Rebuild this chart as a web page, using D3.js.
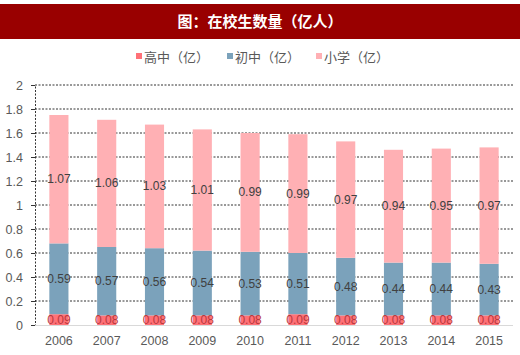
<!DOCTYPE html>
<html><head><meta charset="utf-8">
<script src="https://cdn.jsdelivr.net/npm/d3@7"></script>
<style>body{margin:0;background:#fff;}svg{display:block;font-family:"Noto Sans CJK SC","Liberation Sans",sans-serif;}</style>
</head><body>
<script>
const years = ["2006","2007","2008","2009","2010","2011","2012","2013","2014","2015"];
const highSchool = [0.09,0.08,0.08,0.08,0.08,0.09,0.08,0.08,0.08,0.08];
const juniorHigh = [0.59,0.57,0.56,0.54,0.53,0.51,0.48,0.44,0.44,0.43];
const primary = [1.07,1.06,1.03,1.01,0.99,0.99,0.97,0.94,0.95,0.97];
const seriesNames = ["高中（亿）","初中（亿）","小学（亿）"];
const yTicks = [0,0.2,0.4,0.6,0.8,1,1.2,1.4,1.6,1.8,2];
const title = "图：在校生数量（亿人）";

const colors = ["#FF7177","#7BA2BB","#FFB0B4"];
const labelColors = ["#B8383C","#404040","#404040"];

const W=520,H=355;
const svg=d3.select("body").append("svg").attr("width",W).attr("height",H);

svg.append("rect").attr("x",0).attr("y",4).attr("width",W).attr("height",35).attr("fill","#990000");
svg.append("text").attr("x",W/2).attr("y",27).attr("text-anchor","middle").attr("fill","#fff")
  .attr("font-size",15).attr("font-weight","bold").text(title);

const x=d3.scaleBand().domain(years).range([35,513]).paddingInner(0.6).paddingOuter(0.3);
const y=d3.scaleLinear().domain([0,2]).range([325,85]);

svg.append("g").selectAll("line").data(yTicks.filter(d=>d>0)).join("line")
  .attr("x1",35).attr("x2",513).attr("y1",d=>y(d)).attr("y2",d=>y(d))
  .attr("stroke","#333").attr("stroke-width",1).attr("stroke-dasharray","2,1.5");

const ya=svg.append("g").attr("transform","translate(35,0)")
  .call(d3.axisLeft(y).tickValues(yTicks).tickSize(4).tickPadding(8).tickFormat(d3.format("~g")));
ya.select(".domain").attr("stroke","#333").attr("stroke-dasharray","2,1.5");
ya.selectAll(".tick line").attr("stroke","#333");
ya.selectAll("text").attr("fill","#595959").attr("font-size",12.5).attr("font-family","Liberation Sans, sans-serif");

const rows=years.map((yr,i)=>({year:yr,h:highSchool[i],j:juniorHigh[i],p:primary[i]}));
const stack=d3.stack().keys(["h","j","p"])(rows);

stack.forEach((layer,li)=>{
  svg.append("g").selectAll("rect").data(layer).join("rect")
    .attr("x",d=>x(d.data.year)).attr("width",x.bandwidth())
    .attr("y",d=>y(d[1])).attr("height",d=>y(d[0])-y(d[1]))
    .attr("fill",colors[li]);
});

svg.append("line").attr("x1",35).attr("x2",513).attr("y1",325.5).attr("y2",325.5).attr("stroke","#d9d9d9");
const xa=svg.append("g").attr("transform","translate(0,325)").call(d3.axisBottom(x).tickSize(0).tickPadding(11));
xa.select(".domain").remove();
xa.selectAll("text").attr("fill","#595959").attr("font-size",12.5).attr("font-family","Liberation Sans, sans-serif");

stack.forEach((layer,li)=>{
  svg.append("g").selectAll("text").data(layer).join("text")
    .attr("x",d=>x(d.data.year)+x.bandwidth()/2).attr("y",d=>y((d[0]+d[1])/2)+4)
    .attr("text-anchor","middle").attr("font-size",12).attr("font-family","Liberation Sans, sans-serif")
    .attr("fill",labelColors[li])
    .text(d=>d3.format(".2f")(d[1]-d[0]));
});

const lg=svg.append("g").attr("transform","translate(0,57)");
const lx=[136,227,316];
seriesNames.forEach((n,i)=>{
  lg.append("rect").attr("x",lx[i]).attr("y",-4).attr("width",6).attr("height",6).attr("fill",colors[i]);
  lg.append("text").attr("x",lx[i]+8).attr("y",4.5).attr("font-size",13).attr("fill","#595959").text(n);
});
</script>
</body></html>
